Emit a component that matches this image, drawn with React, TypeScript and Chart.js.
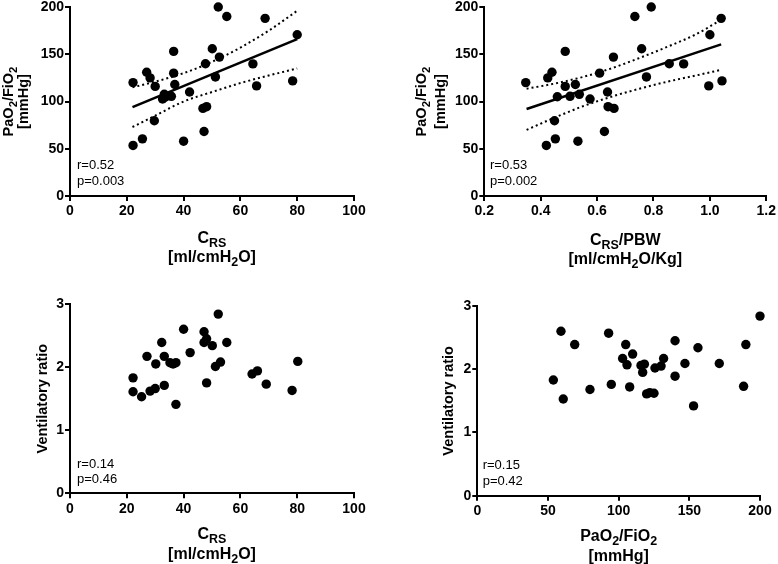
import React, { useEffect, useRef } from "react";
import { Chart, registerables } from "chart.js";
Chart.register(...registerables);

// ---------- DATA ----------
// Panel A: C_RS vs PaO2/FiO2
const crsA = [22.2, 22.2, 25.5, 27, 28.2, 30, 29.7, 32.6, 33.2, 33.5, 35.7, 36.5, 36.5, 36.9, 40, 42.1, 46.8, 48.1, 47.2, 47.7, 50.1, 51.2, 52.6, 52.2, 55.2, 64.4, 65.7, 68.7, 78.4, 80];
const pfA = [120, 53.5, 60.5, 131, 125, 116, 79.6, 102.7, 107.6, 104.5, 105.5, 130, 153, 118, 58, 110, 92.7, 94.5, 68.3, 140, 155.8, 126, 147, 200, 190, 139.8, 116.5, 188, 121.8, 170.6];
const fitAx = [22, 80];
const fitAy = [94, 166];
const bandAx = [22, 30, 40, 50, 60, 70, 80];
const bandAUpper = [115, 121, 130, 142, 157, 175, 196];
const bandALower = [73, 85, 100, 110, 119.5, 127.5, 135];

// Panel B: C_RS/PBW vs PaO2/FiO2
const crsPbwB = [0.347, 0.42, 0.425, 0.44, 0.449, 0.452, 0.459, 0.487, 0.487, 0.504, 0.523, 0.537, 0.532, 0.575, 0.609, 0.626, 0.637, 0.639, 0.66, 0.658, 0.734, 0.758, 0.775, 0.792, 0.856, 0.907, 1.0, 0.996, 1.04, 1.043];
const pfB = [120, 53.5, 125, 131, 79.6, 60.5, 105, 153, 116, 105.5, 118, 107.6, 58, 102.7, 130, 68.3, 110, 94.5, 92.7, 147, 190, 155.8, 126, 200, 140, 139.8, 170.6, 116.5, 188, 121.8];
const fitBx = [0.35, 1.04];
const fitBy = [92, 160.5];
const bandBx = [0.35, 0.45, 0.55, 0.65, 0.75, 0.85, 0.95, 1.04];
const bandBUpper = [113.5, 119, 126, 135, 146, 158, 171, 186.5];
const bandBLower = [70, 83, 95, 105, 113.5, 121, 127.5, 133.5];

// Panel C: C_RS vs Ventilatory ratio
const crsC = [22.2, 22.2, 25.2, 27.1, 28.2, 30, 30.2, 32.3, 33.2, 33.2, 35.2, 36.3, 37.3, 37.3, 40, 42.3, 47.2, 47.2, 48.1, 48.1, 50.1, 51.2, 52.2, 53, 55.2, 64.1, 66, 69.1, 78.2, 80.2];
const vrC = [1.83, 1.61, 1.53, 2.17, 1.62, 1.66, 2.05, 2.39, 2.17, 1.71, 2.07, 2.05, 2.07, 1.41, 2.6, 2.23, 2.56, 2.39, 2.45, 1.75, 2.34, 2.01, 2.84, 2.08, 2.39, 1.89, 1.94, 1.73, 1.63, 2.09];

// Panel D: PaO2/FiO2 vs Ventilatory ratio
const pfD = [53.8, 59.2, 60.8, 68.9, 79.7, 92.9, 94.8, 102.8, 105, 105.9, 107.8, 109.9, 115.8, 117, 118.2, 119.8, 122, 125, 125.7, 130, 131.8, 139.9, 139.9, 146.9, 153, 156.1, 171.2, 188.4, 190, 200];
const vrD = [1.83, 2.6, 1.53, 2.39, 1.68, 2.57, 1.76, 2.17, 2.39, 2.07, 1.72, 2.24, 2.06, 1.95, 2.08, 1.61, 1.63, 1.62, 2.02, 2.05, 2.17, 2.45, 1.89, 2.09, 1.42, 2.34, 2.09, 1.73, 2.39, 2.84];

// Ticks
const ticksCrs = [0, 20, 40, 60, 80, 100];
const ticksCrsLabels = ["0", "20", "40", "60", "80", "100"];
const ticksPbw = [0.2, 0.4, 0.6, 0.8, 1.0, 1.2];
const ticksPbwLabels = ["0.2", "0.4", "0.6", "0.8", "1.0", "1.2"];
const ticksPf = [0, 50, 100, 150, 200];
const ticksPfLabels = ["0", "50", "100", "150", "200"];
const ticksVr = [0, 1, 2, 3];
const ticksVrLabels = ["0", "1", "2", "3"];

// Texts
const notesA = ["r=0.52", "p=0.003"];
const notesB = ["r=0.53", "p=0.002"];
const notesC = ["r=0.14", "p=0.46"];
const notesD = ["r=0.15", "p=0.42"];
const titlePf = ["PaO_{2}/FiO_{2}", "[mmHg]"];
const titleCrs = ["C_{RS}", "[ml/cmH_{2}O]"];
const titleCrsPbw = ["C_{RS}/PBW", "[ml/cmH_{2}O/Kg]"];
const titleVr = ["Ventilatory ratio"];

const FONT = '"Liberation Sans", Arial, Helvetica, sans-serif';

type Panel = {
  box: { left: number; top: number; width: number; height: number };
  area: { left: number; top: number; right: number; bottom: number };
  xs: number[];
  ys: number[];
  xMin: number; xMax: number; xTicks: number[]; xLabels: string[];
  yMin: number; yMax: number; yTicks: number[]; yLabels: string[];
  fit?: { lx: number[]; ly: number[]; bx: number[]; bu: number[]; bl: number[] };
  xTitle: string[]; xTitleY: number[];
  yTitle: string[]; yTitleX: number[];
  notes: string[]; noteX: number; noteY: number[];
};

const panels: Panel[] = [
  {
    box: { left: 0, top: -20, width: 390, height: 300 },
    area: { left: 70, top: 7, right: 354, bottom: 196 },
    xs: crsA, ys: pfA,
    xMin: 0, xMax: 100, xTicks: ticksCrs, xLabels: ticksCrsLabels,
    yMin: 0, yMax: 200, yTicks: ticksPf, yLabels: ticksPfLabels,
    fit: { lx: fitAx, ly: fitAy, bx: bandAx, bu: bandAUpper, bl: bandALower },
    xTitle: titleCrs, xTitleY: [237, 256],
    yTitle: titlePf, yTitleX: [8, 23],
    notes: notesA, noteX: 77, noteY: [165.7, 181.7],
  },
  {
    box: { left: 390, top: -20, width: 388, height: 300 },
    area: { left: 484.3, top: 7, right: 767.3, bottom: 196 },
    xs: crsPbwB, ys: pfB,
    xMin: 0.2, xMax: 1.2, xTicks: ticksPbw, xLabels: ticksPbwLabels,
    yMin: 0, yMax: 200, yTicks: ticksPf, yLabels: ticksPfLabels,
    fit: { lx: fitBx, ly: fitBy, bx: bandBx, bu: bandBUpper, bl: bandBLower },
    xTitle: titleCrsPbw, xTitleY: [239, 258],
    yTitle: titlePf, yTitleX: [421, 440],
    notes: notesB, noteX: 490, noteY: [165.7, 181.7],
  },
  {
    box: { left: 0, top: 280, width: 390, height: 284 },
    area: { left: 70, top: 304, right: 354, bottom: 493.3 },
    xs: crsC, ys: vrC,
    xMin: 0, xMax: 100, xTicks: ticksCrs, xLabels: ticksCrsLabels,
    yMin: 0, yMax: 3, yTicks: ticksVr, yLabels: ticksVrLabels,
    xTitle: titleCrs, xTitleY: [533, 553],
    yTitle: titleVr, yTitleX: [42],
    notes: notesC, noteX: 77, noteY: [464, 479.3],
  },
  {
    box: { left: 390, top: 280, width: 388, height: 284 },
    area: { left: 477.3, top: 306, right: 760, bottom: 495.7 },
    xs: pfD, ys: vrD,
    xMin: 0, xMax: 200, xTicks: ticksPf, xLabels: ticksPfLabels,
    yMin: 0, yMax: 3, yTicks: ticksVr, yLabels: ticksVrLabels,
    xTitle: titlePf, xTitleY: [535, 555],
    yTitle: titleVr, yTitleX: [448],
    notes: notesD, noteX: 482.7, noteY: [465.7, 481],
  },
];

function parseRich(s: string) {
  const out: { t: string; sub: boolean }[] = [];
  const re = /_\{([^}]*)\}/g;
  let last = 0;
  let m: RegExpExecArray | null;
  while ((m = re.exec(s))) {
    if (m.index > last) out.push({ t: s.slice(last, m.index), sub: false });
    out.push({ t: m[1], sub: true });
    last = m.index + m[0].length;
  }
  if (last < s.length) out.push({ t: s.slice(last), sub: false });
  return out;
}

function drawRich(ctx: CanvasRenderingContext2D, s: string, cx: number, cy: number, size: number, rotate: boolean) {
  const segs = parseRich(s);
  ctx.save();
  ctx.translate(cx, cy);
  if (rotate) ctx.rotate(-Math.PI / 2);
  let w = 0;
  const parts = segs.map((sg) => {
    const fs = sg.sub ? size * 0.78 : size;
    ctx.font = `bold ${fs}px ${FONT}`;
    const mw = ctx.measureText(sg.t).width;
    w += mw;
    return { ...sg, fs, mw };
  });
  let x = -w / 2;
  ctx.fillStyle = "#000";
  ctx.textAlign = "left";
  ctx.textBaseline = "alphabetic";
  const base = size * 0.36;
  for (const p of parts) {
    ctx.font = `bold ${p.fs}px ${FONT}`;
    ctx.fillText(p.t, x, base + (p.sub ? size * 0.25 : 0));
    x += p.mw;
  }
  ctx.restore();
}

function PanelChart({ p }: { p: Panel }) {
  const ref = useRef<HTMLCanvasElement | null>(null);
  useEffect(() => {
    if (!ref.current) return;
    const { box, area } = p;
    const yW = area.left - box.left;
    const xH = box.top + box.height - area.bottom;
    const datasets: any[] = [];
    if (p.fit) {
      datasets.push({
        data: p.fit.lx.map((x, i) => ({ x, y: p.fit!.ly[i] })),
        showLine: true, borderColor: "#000", borderWidth: 2.5, pointRadius: 0, clip: false,
      });
      datasets.push({
        data: p.fit.bx.map((x, i) => ({ x, y: p.fit!.bu[i] })),
        showLine: true, borderColor: "#000", borderWidth: 2, borderDash: [2, 3], pointRadius: 0,
        cubicInterpolationMode: "monotone", clip: false,
      });
      datasets.push({
        data: p.fit.bx.map((x, i) => ({ x, y: p.fit!.bl[i] })),
        showLine: true, borderColor: "#000", borderWidth: 2, borderDash: [2, 3], pointRadius: 0,
        cubicInterpolationMode: "monotone", clip: false,
      });
    }
    datasets.push({
      data: p.xs.map((x, i) => ({ x, y: p.ys[i] })),
      showLine: false, backgroundColor: "#000", borderColor: "#000", borderWidth: 0,
      pointRadius: 4.7, pointHoverRadius: 4.7, clip: false,
    });
    const tickFont = { family: FONT, size: 14, weight: "bold" as const };
    const grid = { display: true, drawOnChartArea: false, drawTicks: true, tickLength: 5, color: "#000", lineWidth: 2 };
    const border = { display: true, color: "#000", width: 2 };
    const chart = new Chart(ref.current, {
      type: "scatter",
      data: { datasets },
      options: {
        animation: false,
        responsive: false,
        maintainAspectRatio: false,
        devicePixelRatio: 1,
        events: [],
        layout: { padding: { left: 0, top: area.top - box.top, right: box.left + box.width - area.right, bottom: 0 } },
        plugins: { legend: { display: false }, tooltip: { enabled: false } },
        scales: {
          x: {
            type: "linear", min: p.xMin, max: p.xMax,
            afterBuildTicks: (s: any) => { s.ticks = p.xTicks.map((v) => ({ value: v })); },
            afterFit: (s: any) => { s.height = xH; },
            ticks: { font: tickFont, color: "#000", padding: 2, maxRotation: 0, autoSkip: false,
              callback: (_v: any, i: number) => p.xLabels[i] },
            grid, border,
          },
          y: {
            type: "linear", min: p.yMin, max: p.yMax,
            afterBuildTicks: (s: any) => { s.ticks = p.yTicks.map((v) => ({ value: v })); },
            afterFit: (s: any) => { s.width = yW; },
            ticks: { font: tickFont, color: "#000", padding: 1, autoSkip: false,
              callback: (_v: any, i: number) => p.yLabels[i] },
            grid, border,
          },
        },
      },
      plugins: [{
        id: "texts",
        afterDraw(c: any) {
          const ctx = c.ctx as CanvasRenderingContext2D;
          const ox = box.left, oy = box.top;
          const ca = c.chartArea;
          const cxMid = (ca.left + ca.right) / 2;
          const cyMid = (ca.top + ca.bottom) / 2;
          p.xTitle.forEach((t, i) => drawRich(ctx, t, cxMid, p.xTitleY[i] - oy, 16, false));
          p.yTitle.forEach((t, i) => drawRich(ctx, t, p.yTitleX[i] - ox, cyMid, 14.5, true));
          ctx.save();
          ctx.fillStyle = "#000";
          ctx.font = `13px ${FONT}`;
          ctx.textAlign = "left";
          ctx.textBaseline = "middle";
          p.notes.forEach((t, i) => ctx.fillText(t, p.noteX - ox, p.noteY[i] - oy));
          ctx.restore();
        },
      }],
    } as any);
    return () => chart.destroy();
  }, [p]);
  return (
    <canvas
      ref={ref}
      width={p.box.width}
      height={p.box.height}
      style={{ position: "absolute", left: p.box.left, top: p.box.top, width: p.box.width, height: p.box.height }}
    />
  );
}

export default function App() {
  return (
    <div style={{ position: "absolute", left: 0, top: 0, width: 778, height: 564, background: "#fff", overflow: "hidden" }}>
      {panels.map((p, i) => (
        <PanelChart key={i} p={p} />
      ))}
    </div>
  );
}
